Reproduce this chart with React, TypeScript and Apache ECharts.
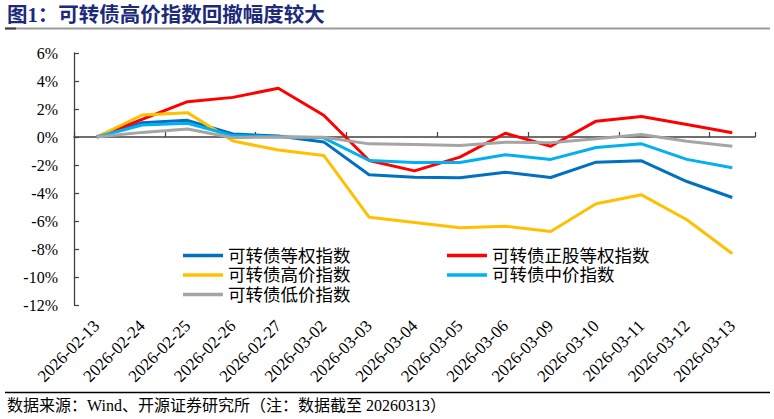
import React, { useEffect, useRef } from "react";
import * as echarts from "echarts";

const categories = [
  "2026-02-13", "2026-02-24", "2026-02-25", "2026-02-26", "2026-02-27",
  "2026-03-02", "2026-03-03", "2026-03-04", "2026-03-05", "2026-03-06",
  "2026-03-09", "2026-03-10", "2026-03-11", "2026-03-12", "2026-03-13",
];

const equalWeight = [0, 1.02, 1.19, 0.21, 0.07, -0.35, -2.7, -2.87, -2.91, -2.51, -2.89, -1.8, -1.7, -3.18, -4.32];
const stockEqualWeight = [0, 1.26, 2.52, 2.83, 3.48, 1.55, -1.68, -2.42, -1.44, 0.27, -0.66, 1.13, 1.46, 0.89, 0.3];
const highPrice = [0, 1.57, 1.74, -0.29, -0.93, -1.32, -5.73, -6.1, -6.49, -6.37, -6.75, -4.77, -4.13, -5.91, -8.34];
const midPrice = [0, 0.86, 0.98, 0.1, 0.02, -0.06, -1.68, -1.82, -1.82, -1.27, -1.6, -0.75, -0.49, -1.6, -2.2];
const lowPrice = [0, 0.33, 0.57, -0.05, 0.0, -0.02, -0.49, -0.54, -0.61, -0.37, -0.41, -0.13, 0.18, -0.3, -0.66];

const seriesNames = ["可转债等权指数", "可转债正股等权指数", "可转债高价指数", "可转债中价指数", "可转债低价指数"];
const seriesColors = ["#0070C0", "#FF0000", "#FFC000", "#00B0F0", "#A5A5A5"];
const seriesValues = [equalWeight, stockEqualWeight, highPrice, midPrice, lowPrice];

const yMin = -12;
const yMax = 6;
const yInterval = 2;

const titleText = "图1：可转债高价指数回撤幅度较大";
const sourceText = "数据来源：Wind、开源证券研究所（注：数据截至 20260313）";

const FONT = '"Liberation Serif", "Noto Sans CJK SC", serif';

export default function App() {
  const ref = useRef<HTMLDivElement>(null);

  useEffect(() => {
    document.body.style.margin = "0";
    if (!ref.current) return;
    const chart = echarts.init(ref.current, null, { renderer: "svg" });
    const legendText = { fontFamily: FONT, fontSize: 17.5, color: "#000", lineHeight: 19 };
    const option = {
      animation: false,
      backgroundColor: "#fff",
      textStyle: { fontFamily: FONT },
      grid: { left: 74, right: 19, top: 53, bottom: 114, containLabel: false },
      legend: [
        {
          data: [seriesNames[0], seriesNames[2], seriesNames[4]],
          orient: "vertical",
          left: 183,
          top: 246,
          padding: 0,
          itemGap: 0.5,
          itemWidth: 40,
          itemHeight: 3.5,
          icon: "rect",
          textStyle: legendText,
        },
        {
          data: [seriesNames[1], seriesNames[3]],
          orient: "vertical",
          left: 447,
          top: 246,
          padding: 0,
          itemGap: 0.5,
          itemWidth: 40,
          itemHeight: 3.5,
          icon: "rect",
          textStyle: legendText,
        },
      ],
      xAxis: [
        {
          type: "category",
          data: categories,
          boundaryGap: true,
          position: "bottom",
          axisLine: { show: true, onZero: true, lineStyle: { color: "#404040", width: 1.5 } },
          axisTick: { show: true, inside: true, length: 5, alignWithLabel: false, lineStyle: { color: "#404040", width: 1.2 } },
          axisLabel: { show: false },
          splitLine: { show: false },
        },
        {
          type: "category",
          data: categories,
          boundaryGap: true,
          position: "bottom",
          axisLine: { show: false, onZero: false },
          axisTick: { show: false },
          axisLabel: {
            show: true,
            interval: 0,
            rotate: 45,
            margin: 18,
            fontFamily: FONT,
            fontSize: 17,
            color: "#000",
          },
          splitLine: { show: false },
        },
      ],
      yAxis: {
        type: "value",
        min: yMin,
        max: yMax,
        interval: yInterval,
        axisLine: { show: true, lineStyle: { color: "#404040", width: 1.3 } },
        axisTick: { show: true, inside: true, length: 5, lineStyle: { color: "#404040", width: 1.2 } },
        axisLabel: {
          formatter: (v: number) => `${v}%`,
          margin: 16,
          fontFamily: FONT,
          fontSize: 16,
          color: "#000",
        },
        splitLine: { show: false },
      },
      series: seriesNames.map((name, i) => ({
        name,
        type: "line",
        xAxisIndex: 0,
        data: seriesValues[i],
        symbol: "none",
        lineStyle: { color: seriesColors[i], width: 3 },
        itemStyle: { color: seriesColors[i] },
      })),
      graphic: [
        {
          type: "text",
          left: 7,
          top: 5,
          style: {
            text: titleText,
            fontFamily: FONT,
            fontSize: 20.5,
            fontWeight: "bold",
            fill: "#1c2a7a",
          },
        },
        {
          type: "line",
          shape: { x1: 5, y1: 28.5, x2: 770, y2: 28.5 },
          style: { stroke: "#9a9a9a", lineWidth: 2 },
        },
        {
          type: "line",
          shape: { x1: 5, y1: 28.5, x2: 16, y2: 28.5 },
          style: { stroke: "#404040", lineWidth: 2 },
        },
        {
          type: "line",
          shape: { x1: 5, y1: 392.5, x2: 770, y2: 392.5 },
          style: { stroke: "#000", lineWidth: 1.5 },
        },
        {
          type: "text",
          left: 7,
          top: 397,
          style: {
            text: sourceText,
            fontFamily: FONT,
            fontSize: 16,
            fill: "#000",
          },
        },
      ],
    };
    chart.setOption(option as any);
    return () => chart.dispose();
  }, []);

  return (
    <div
      ref={ref}
      style={{ position: "absolute", left: 0, top: 0, width: 774, height: 419 }}
    />
  );
}
